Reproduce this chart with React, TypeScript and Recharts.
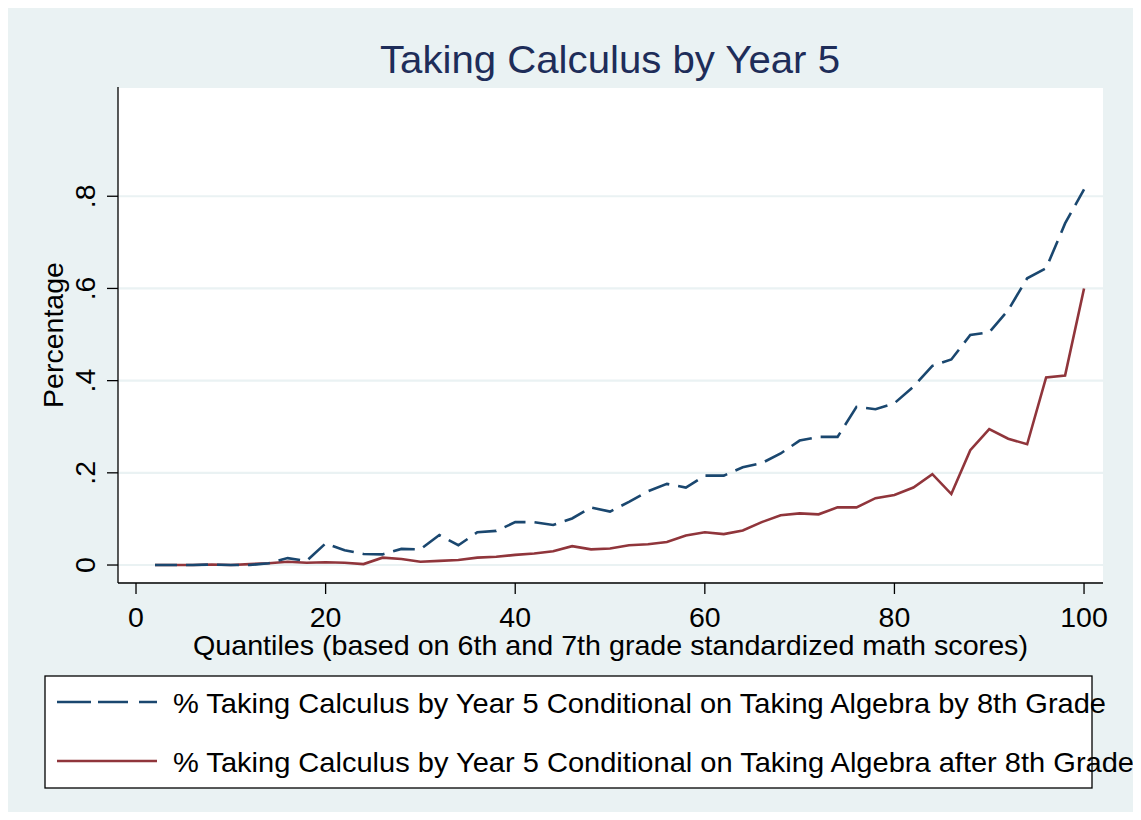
import React from "react";
import { LineChart, Line, XAxis, YAxis, CartesianGrid, Customized } from "recharts";

const quantiles = [2, 4, 6, 8, 10, 12, 14, 16, 18, 20, 22, 24, 26, 28, 30, 32, 34, 36, 38, 40, 42, 44, 46, 48, 50, 52, 54, 56, 58, 60, 62, 64, 66, 68, 70, 72, 74, 76, 78, 80, 82, 84, 86, 88, 90, 92, 94, 96, 98, 100];
const algebraBy8th = [0, 0, 0, 0.001, 0, 0, 0.004, 0.015, 0.009, 0.047, 0.032, 0.024, 0.023, 0.035, 0.034, 0.065, 0.043, 0.071, 0.074, 0.093, 0.093, 0.087, 0.101, 0.125, 0.116, 0.137, 0.16, 0.176, 0.168, 0.194, 0.194, 0.212, 0.221, 0.242, 0.27, 0.278, 0.278, 0.343, 0.338, 0.351, 0.387, 0.432, 0.446, 0.499, 0.505, 0.553, 0.622, 0.644, 0.741, 0.815];
const algebraAfter8th = [0, 0, 0, 0.001, 0, 0.002, 0.004, 0.007, 0.005, 0.006, 0.005, 0.002, 0.016, 0.013, 0.007, 0.009, 0.011, 0.016, 0.018, 0.022, 0.025, 0.03, 0.041, 0.034, 0.036, 0.043, 0.045, 0.05, 0.064, 0.071, 0.067, 0.075, 0.093, 0.108, 0.112, 0.11, 0.125, 0.125, 0.145, 0.152, 0.168, 0.197, 0.154, 0.249, 0.295, 0.274, 0.262, 0.407, 0.411, 0.6];
const xTicks = [0, 20, 40, 60, 80, 100];
const yTicks = [0, 0.2, 0.4, 0.6, 0.8];
const yTickLabels = ["0", ".2", ".4", ".6", ".8"];
const seriesNames = [
  "% Taking Calculus by Year 5 Conditional on Taking Algebra by 8th Grade",
  "% Taking Calculus by Year 5 Conditional on Taking Algebra after 8th Grade",
];
const title = "Taking Calculus by Year 5";
const xTitle = "Quantiles (based on 6th and 7th grade standardized math scores)";
const yTitle = "Percentage";

const data = quantiles.map((q, i) => ({ q, by8: algebraBy8th[i], after8: algebraAfter8th[i] }));

const FONT = "'Liberation Sans', Arial, sans-serif";
const BLUE = "#1A476F";
const RED = "#90353B";
const BG = "#EAF2F3";
const TITLE = "#1E2D59";
const DASH = "22 9";

const XTick = (props: any) => {
  const { x, y, payload } = props;
  return (
    <text x={x} y={y} dy={31} textAnchor="middle" fontSize={28.5} fontFamily={FONT} fill="#000">
      {payload.value}
    </text>
  );
};

const YTick = (props: any) => {
  const { x, y, payload } = props;
  const idx = yTicks.indexOf(payload.value);
  const lx = x - 10;
  return (
    <text x={lx} y={y} transform={`rotate(-90, ${lx}, ${y})`} textAnchor="middle" fontSize={28.5} fontFamily={FONT} fill="#000">
      {idx >= 0 ? yTickLabels[idx] : payload.value}
    </text>
  );
};

const Decorations = () => (
  <g fontFamily={FONT}>
    <text x={602} y={65} textAnchor="middle" fontSize={39} fill={TITLE} textLength={460} lengthAdjust="spacingAndGlyphs">
      {title}
    </text>
    <text x={602.5} y={647} textAnchor="middle" fontSize={28.5} fill="#000" textLength={835} lengthAdjust="spacingAndGlyphs">
      {xTitle}
    </text>
    <text x={55} y={327} transform="rotate(-90, 55, 327)" textAnchor="middle" fontSize={28.5} fill="#000">
      {yTitle}
    </text>
    <rect x={37} y={668} width={1047} height={112} fill="#fff" stroke="#000" strokeWidth={1.3} />
    <line x1={49} y1={694} x2={149} y2={694} stroke={BLUE} strokeWidth={2.6} strokeDasharray="34 7 30 11 18" />
    <text x={165} y={705} fontSize={28.5} fill="#000" textLength={933} lengthAdjust="spacingAndGlyphs">
      {seriesNames[0]}
    </text>
    <line x1={49} y1={753} x2={149} y2={753} stroke={RED} strokeWidth={2.6} />
    <text x={165} y={764} fontSize={28.5} fill="#000" textLength={961} lengthAdjust="spacingAndGlyphs">
      {seriesNames[1]}
    </text>
  </g>
);

export default function App() {
  return (
    <div style={{ width: 1125, height: 804, background: BG }}>
      <LineChart
        width={1125}
        height={804}
        data={data}
        margin={{ top: 79, right: 30, bottom: 169, left: 0 }}
        style={{ background: BG }}
      >
        <CartesianGrid horizontal={true} vertical={false} stroke={BG} strokeWidth={2.2} fill="#fff" />
        <XAxis
          dataKey="q"
          type="number"
          domain={[-1.9, 102]}
          ticks={xTicks}
          allowDataOverflow
          height={60}
          tickSize={11}
          axisLine={{ stroke: "#000", strokeWidth: 1.3 }}
          tickLine={{ stroke: "#000", strokeWidth: 1.3 }}
          tick={<XTick />}
          interval={0}
        />
        <YAxis
          type="number"
          domain={[-0.039, 1.037]}
          ticks={yTicks}
          allowDataOverflow
          width={110}
          tickSize={11}
          axisLine={{ stroke: "#000", strokeWidth: 1.3 }}
          tickLine={{ stroke: "#000", strokeWidth: 1.3 }}
          tick={<YTick />}
          interval={0}
        />
        <Line
          type="linear"
          dataKey="after8"
          name={seriesNames[1]}
          stroke={RED}
          strokeWidth={2.6}
          dot={false}
          isAnimationActive={false}
        />
        <Line
          type="linear"
          dataKey="by8"
          name={seriesNames[0]}
          stroke={BLUE}
          strokeWidth={2.6}
          strokeDasharray={DASH}
          dot={false}
          isAnimationActive={false}
        />
        <Customized component={Decorations} />
      </LineChart>
    </div>
  );
}
